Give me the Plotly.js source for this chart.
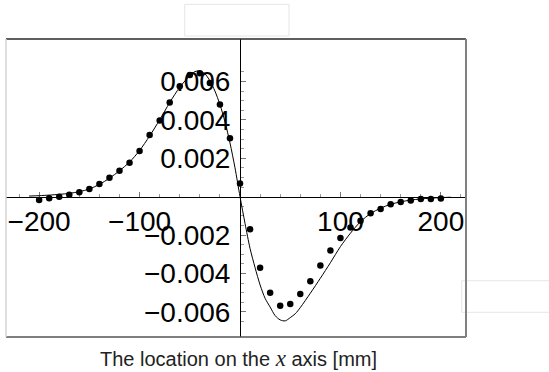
<!DOCTYPE html>
<html>
<head>
<meta charset="utf-8">
<script src="https://cdn.plot.ly/plotly-3.0.1.min.js"></script>
<style>html,body{margin:0;padding:0;background:#fff;}#chart{width:549px;height:372px;}</style>
</head>
<body>
<div id="chart"></div>
<script>
// Measured points (dots)
var pointX = [-200,-190,-180,-170,-160,-150,-140,-130,-120,-110,-100,-90,-80,-70,-60,-50,-40,-30,-20,-10,0,
              10,20,30,40,50,60,70,80,90,100,110,120,130,140,150,160,170,180,190,200];
var pointY = [-0.00017,-0.00009,0.0,0.0001,0.00023,0.0004,0.00066,0.00098,0.00135,0.00177,0.00238,0.00321,0.00396,0.0049,0.00575,0.00634,0.00642,0.00592,0.0048,0.00304,0.00068,
              -0.0017,-0.0037,-0.0050,-0.00568,-0.00559,-0.00507,-0.00441,-0.00359,-0.00281,-0.00215,-0.00161,-0.00125,-0.00086,-0.00064,-0.0004,-0.00028,-0.0002,-0.00012,-0.00012,-0.0001];

// Computed curve (solid line)
var curveX = [-210,-200,-190,-180,-170,-160,-150,-140,-130,-120,-110,-100,-90,-80,-70,-60,-50,-45,-40,-35,-30,-25,-20,-15,-10,-5,0,
              5,10,15,20,25,30,35,40,45,50,55,60,70,80,90,100,110,120,130,140,150,160,170,180,190,200,210];
var curveY = [0.00003,0.00005,0.00008,0.00012,0.00017,0.00026,0.0004,0.00064,0.00096,0.00135,0.0018,0.0024,0.00316,0.004,0.0049,0.0057,0.0063,0.00651,0.00655,0.0064,0.00603,0.0055,0.0048,0.0039,0.0028,0.0015,0.0,
              -0.0014,-0.0027,-0.0037,-0.0046,-0.0053,-0.00575,-0.0062,-0.00642,-0.00647,-0.0063,-0.0061,-0.00578,-0.00503,-0.00425,-0.00344,-0.0026,-0.0019,-0.0013,-0.00088,-0.0006,-0.0004,-0.00027,-0.00018,-0.00012,-0.00008,-0.00005,-0.00003];

var xTickVals = [-200,-100,100,200];
var xTickText = ['\u2212200','\u2212100','100','200'];
var xMinorVals = [-220,-180,-160,-140,-120,-80,-60,-40,-20,20,40,60,80,120,140,160,180,220];
var yTickVals = [-0.006,-0.004,-0.002,0.002,0.004,0.006];
var yTickText = ['\u22120.006','\u22120.004','\u22120.002','0.002','0.004','0.006'];
var yMinorVals = [-0.0065,-0.0055,-0.005,-0.0045,-0.0035,-0.003,-0.0025,-0.0015,-0.001,-0.0005,
                  0.0005,0.001,0.0015,0.0025,0.003,0.0035,0.0045,0.005,0.0055,0.0065];

var xRange = [-233, 225];
var yRange = [-0.00731, 0.00821];

var traces = [
  {x: curveX, y: curveY, type: 'scatter', mode: 'lines', line: {color: '#000', width: 1, shape: 'spline', smoothing: 0.8}, hoverinfo: 'skip'},
  {x: pointX, y: pointY, type: 'scatter', mode: 'markers', marker: {color: '#000', size: 6.5}}
];

var tickFont = {family: '"Liberation Sans", Arial, sans-serif', size: 28, color: '#000'};

var layout = {
  width: 549, height: 372,
  margin: {l: 6, r: 83, t: 39, b: 35},
  paper_bgcolor: '#fff', plot_bgcolor: '#fff',
  showlegend: false,
  xaxis: {
    range: xRange, anchor: 'free', position: (0 - yRange[0]) / (yRange[1] - yRange[0]),
    showline: true, linecolor: '#000', linewidth: 1,
    showgrid: false, zeroline: false,
    tickmode: 'array', tickvals: xTickVals, ticktext: xTickText,
    ticks: 'inside', ticklen: 5, tickcolor: '#777', tickwidth: 1,
    minor: {tickmode: 'array', tickvals: xMinorVals, ticks: 'inside', ticklen: 3, tickcolor: '#999', showgrid: false},
    tickfont: tickFont, ticklabelstandoff: 0,
    layer: 'below traces'
  },
  yaxis: {
    range: yRange, anchor: 'free', position: (0 - xRange[0]) / (xRange[1] - xRange[0]),
    showline: true, linecolor: '#000', linewidth: 1,
    showgrid: false, zeroline: false,
    tickmode: 'array', tickvals: yTickVals, ticktext: yTickText,
    ticks: 'inside', ticklen: 5, tickcolor: '#777', tickwidth: 1,
    minor: {tickmode: 'array', tickvals: yMinorVals, ticks: 'inside', ticklen: 3, tickcolor: '#999', showgrid: false},
    tickfont: tickFont, ticklabelstandoff: 4,
    layer: 'below traces'
  },
  shapes: [
    {type: 'rect', xref: 'paper', yref: 'paper', x0: 0.3885, x1: 0.6152, y0: 1.0101, y1: 1.1164, line: {color: '#e6e6e6', width: 1}, fillcolor: 'rgba(0,0,0,0)'},
    {type: 'rect', xref: 'paper', yref: 'paper', x0: 0.9907, x1: 1.19, y0: 0.0829, y1: 0.1889, line: {color: '#e6e6e6', width: 1}, fillcolor: 'rgba(0,0,0,0)'},
    {type: 'line', xref: 'paper', yref: 'paper', x0: 0, x1: 1, y0: 1, y1: 1, line: {color: '#2a2a2a', width: 1.5}},
    {type: 'line', xref: 'paper', yref: 'paper', x0: 0, x1: 1, y0: 0, y1: 0, line: {color: '#555', width: 1.5}},
    {type: 'line', xref: 'paper', yref: 'paper', x0: 0, x1: 0, y0: 0, y1: 1, line: {color: '#d4d4d4', width: 1.5}},
    {type: 'line', xref: 'paper', yref: 'paper', x0: 1, x1: 1, y0: 0, y1: 1, line: {color: '#808080', width: 2}}
  ],
  annotations: [
    {xref: 'paper', yref: 'paper', x: 0.5065, y: -0.072, xanchor: 'center', yanchor: 'middle', showarrow: false,
     text: 'The location on the <span style="font-family:\'Liberation Serif\',serif;font-style:italic;font-size:23px">x</span> axis [mm]',
     font: {family: '"Liberation Sans", Arial, sans-serif', size: 20, color: '#222'}}
  ]
};

Plotly.newPlot('chart', traces, layout, {staticPlot: true, displayModeBar: false});
</script>
</body>
</html>
